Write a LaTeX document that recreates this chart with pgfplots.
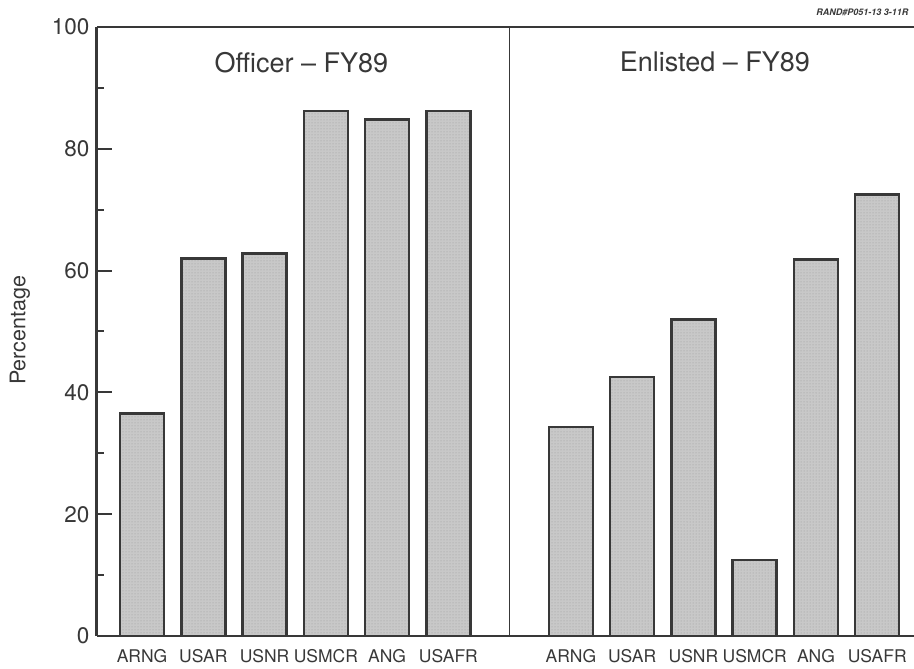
\documentclass[border=0pt]{standalone}
\usepackage{fontspec}
\setmainfont{TeX Gyre Heros}
\usepackage{pgfplots}
\pgfplotsset{compat=1.18}
\usetikzlibrary{patterns}
\definecolor{barfill}{HTML}{C8C8C8}
\definecolor{axgray}{HTML}{383838}
\begin{document}
\begin{tikzpicture}
\begin{axis}[
  scale only axis, width=817pt, height=609pt,
  xmin=0.265, xmax=13.6, ymin=0, ymax=100,
  axis x line*=box, axis y line*=left,
  axis line style={-, axgray},
  x axis line style={line width=2.5pt},
  y axis line style={line width=3pt},
  ytick={0,20,40,60,80,100},
  minor ytick={10,30,50,70,90},
  tick align=inside,
  major tick length=15pt, minor tick length=7pt,
  y tick style={line width=2pt, axgray},
  xtick={1,2,3,4,5,6,8,9,10,11,12,13},
  xticklabels={ARNG,USAR,USNR,USMCR,ANG,USAFR,ARNG,USAR,USNR,USMCR,ANG,USAFR},
  x tick style={draw=none},
  /pgf/number format/assume math mode=true,
  yticklabel style={font=\fontsize{22.5}{26}\selectfont, text=axgray, xshift=-4pt},
  xticklabel style={font=\fontsize{17.5}{20}\selectfont, text=axgray, yshift=-10pt},
  clip=false,
]
\addplot[ybar, bar width=44pt, draw=axgray, line width=2.5pt, fill=barfill,
  postaction={pattern=dots, pattern color=gray!80}]
  coordinates {
  (1,36.5) (2,62) (3,62.8) (4,86.2) (5,84.8) (6,86.2)
  (8,34.3) (9,42.5) (10,52) (11,12.5) (12,61.8) (13,72.5)
  };
\addplot[axgray, line width=1.5pt] coordinates {(7,0) (7,100)};
\node[font=\fontsize{27}{32}\selectfont, text=axgray] at (axis cs:3.6,94.2) {Officer \textendash\ FY89};
\node[font=\fontsize{27}{32}\selectfont, text=axgray] at (axis cs:10.35,94.2) {Enlisted \textendash\ FY89};
\node[rotate=90, font=\fontsize{21.5}{26}\selectfont, text=axgray] at ([xshift=-77pt]axis description cs:0,0.502) {Percentage};
\node[anchor=east, font=\fontsize{9}{10}\selectfont\bfseries\itshape, text=axgray] at ([yshift=15pt,xshift=-2pt]axis description cs:1,1) {RAND\#P051-13 3-11R};
\end{axis}
\pgfresetboundingbox
\path[use as bounding box] (current axis.south west) ++(-97pt,-33pt) rectangle ++(914pt,669pt);
\end{tikzpicture}
\end{document}
